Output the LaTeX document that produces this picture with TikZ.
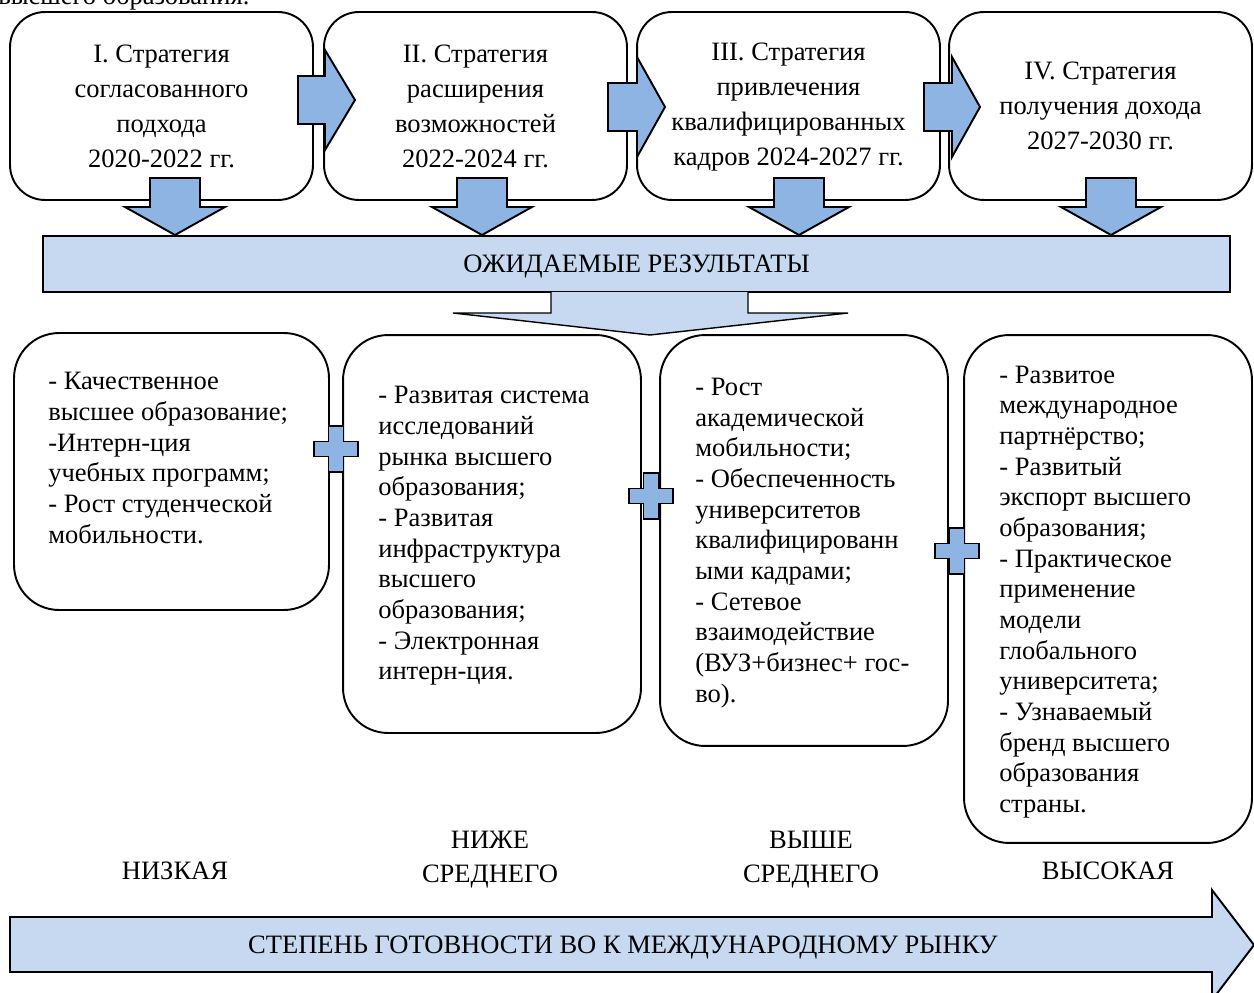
\documentclass[tikz,border=0pt]{standalone}
\usepackage{fontspec}
\setmainfont{Liberation Serif}
\definecolor{arrowblue}{HTML}{8EB4E3}
\definecolor{lightblue}{HTML}{C6D9F1}
\tikzset{
  stratbox/.style={draw, line width=1.1pt, rounded corners=0.7cm, fill=white,
    minimum width=6.06cm, minimum height=3.76cm, align=center,
    font=\fontsize{15.1}{19.9}\selectfont},
  resbox/.style={draw, line width=1.1pt, rounded corners=0.9cm, fill=white},
  restext/.style={align=left, anchor=west, inner sep=0pt,
    font=\fontsize{15.1}{17.45}\selectfont},
  blockarrow/.style={draw, line width=1.1pt, fill=arrowblue, line join=miter},
  lightarrow/.style={draw, line width=0.8pt, fill=lightblue},
  lbl/.style={align=center, inner sep=0pt, font=\fontsize{15.1}{19.3}\selectfont},
  plussign/.pic={\draw[blockarrow] (-7.5,-23) -- (7.5,-23) -- (7.5,-7.5) -- (22,-7.5) -- (22,7.5) -- (7.5,7.5) -- (7.5,23) -- (-7.5,23) -- (-7.5,7.5) -- (-22,7.5) -- (-22,-7.5) -- (-7.5,-7.5) -- cycle;}
}
\begin{document}
\begin{tikzpicture}[x=0.02cm, y=-0.02cm]
\useasboundingbox (0,0) rectangle (1254,993);

% cut-off heading line
\node[anchor=base west, inner sep=0pt, font=\fontsize{15.1}{17}\selectfont] (head) at (-2,5) {высшего образования.};

% strategy boxes
\node[stratbox] (s1) at (161.5,106) {I. Стратегия\\согласованного\\подхода\\2020-2022 гг.};
\node[stratbox] (s2) at (475.5,106) {II. Стратегия\\расширения\\возможностей\\2022-2024 гг.};
\node[stratbox, text depth=0.5ex] (s3) at (788.5,106) {III. Стратегия\\привлечения\\квалифицированных\\кадров 2024-2027 гг.};
\node[stratbox] (s4) at (1100.5,106) {IV. Стратегия\\получения дохода\\2027-2030 гг.};

% right block arrows
\draw[blockarrow] (298,76) -- (325,76) -- (325,50) -- (355,100) -- (325,150) -- (325,124) -- (298,124) -- cycle;
\draw[blockarrow] (608,83) -- (637,83) -- (637,57) -- (665,107) -- (637,157) -- (637,131) -- (608,131) -- cycle;
\draw[blockarrow] (924,83) -- (952,83) -- (952,57) -- (980,107) -- (952,157) -- (952,131) -- (924,131) -- cycle;

% down block arrows
\foreach \c in {175,482,799,1111}{
  \draw[blockarrow] (\c-25,178) -- (\c+25,178) -- (\c+25,207) -- (\c+50,207) -- (\c,235) -- (\c-50,207) -- (\c-25,207) -- cycle;
}

% results banner
\node[draw, line width=0.8pt, fill=lightblue, minimum width=23.74cm, minimum height=1.12cm,
  text depth=0pt, font=\fontsize{15.1}{17}\selectfont] (res) at (636.5,264) {ОЖИДАЕМЫЕ РЕЗУЛЬТАТЫ};
\draw[lightarrow] (551,292) -- (551,313) -- (453,313) -- (650,335) -- (848,313) -- (748,313) -- (748,292);

% result boxes
\node[resbox, minimum width=6.3cm, minimum height=5.54cm] (r1) at (171.5,471.5) {};
\node[resbox, minimum width=5.96cm, minimum height=7.96cm] (r2) at (492,534) {};
\node[resbox, minimum width=5.76cm, minimum height=8.22cm] (r3) at (804,540.5) {};
\node[resbox, minimum width=5.76cm, minimum height=10.16cm] (r4) at (1108,589) {};

\node[restext] (t1) at (48,458) {- Качественное\\высшее образование;\\-Интерн-ция\\учебных программ;\\- Рост студенческой\\мобильности.};
\node[restext] (t2) at (378,536) {- Развитая система\\исследований\\рынка высшего\\образования;\\- Развитая\\инфраструктура\\высшего\\образования;\\- Электронная\\интерн-ция.};
\node[restext] (t3) at (695,543) {- Рост\\академической\\мобильности;\\- Обеспеченность\\университетов\\квалифицированн\\ыми кадрами;\\- Сетевое\\взаимодействие\\(ВУЗ+бизнес+ гос-\\во).};
\node[restext] (t4) at (999,592) {- Развитое\\международное\\партнёрство;\\- Развитый\\экспорт высшего\\образования;\\- Практическое\\применение\\модели\\глобального\\университета;\\- Узнаваемый\\бренд высшего\\образования\\страны.};

% plus signs
\pic at (336,449) {plussign};
\pic at (651,496) {plussign};
\pic at (957,551) {plussign};

% level labels
\node[lbl] (l1) at (175,871) {НИЗКАЯ};
\node[lbl] (l2) at (490,860) {НИЖЕ\\СРЕДНЕГО};
\node[lbl] (l3) at (811,860) {ВЫШЕ\\СРЕДНЕГО};
\node[lbl] (l4) at (1108,871) {ВЫСОКАЯ};

% readiness arrow
\draw[lightarrow, line width=1.1pt] (10,917) -- (1212,917) -- (1212,890) -- (1254,945) -- (1212,1000) -- (1212,972) -- (10,972) -- cycle;
\node[lbl, text depth=0pt] (deg) at (623,945) {СТЕПЕНЬ ГОТОВНОСТИ ВО К МЕЖДУНАРОДНОМУ РЫНКУ};
\end{tikzpicture}
\end{document}
